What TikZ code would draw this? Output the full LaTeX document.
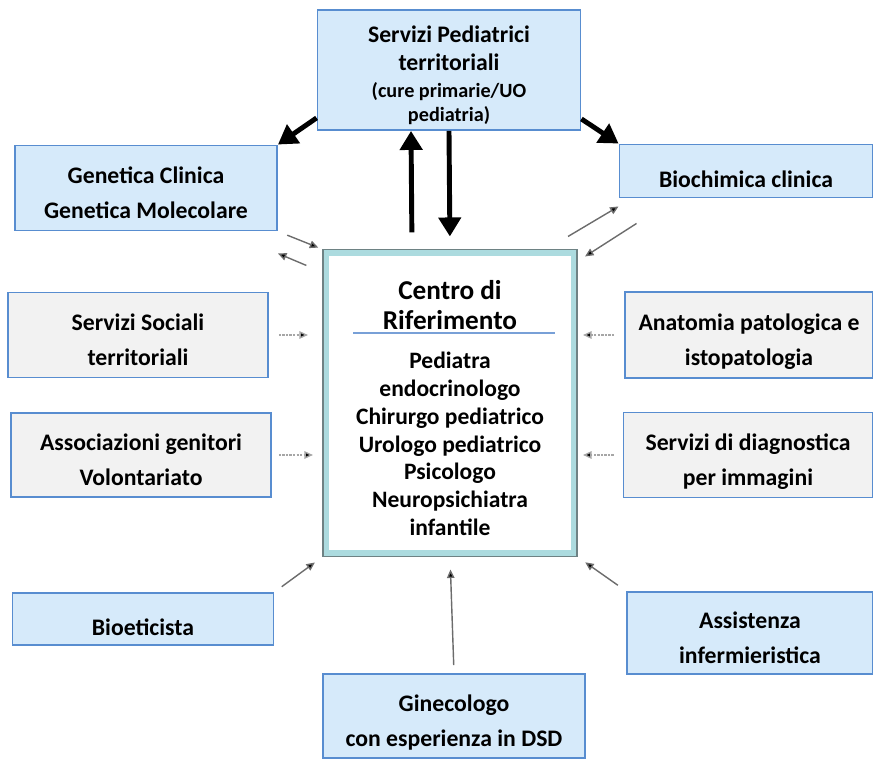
\documentclass[tikz,border=0pt]{standalone}
\usepackage{fontspec}
\setmainfont{Carlito}
\usepackage{xcolor}
\usepackage{tikz}
\usetikzlibrary{arrows.meta, calc}
\definecolor{boxblue}{RGB}{214, 234, 250}
\definecolor{boxedge}{RGB}{88, 141, 208}
\definecolor{boxgrey}{RGB}{242, 242, 242}
\definecolor{framecyan}{RGB}{172, 219, 223}
\definecolor{frameedge}{RGB}{110, 130, 132}
\definecolor{rulecol}{RGB}{120, 160, 215}

\begin{document}
\begin{tikzpicture}[
    x=0.02cm, y=-0.02cm,
    unit/.style={draw=boxedge, line width=1.1pt, align=center, inner sep=2pt,
                 font=\fontsize{13.5}{20}\selectfont\bfseries,
                 text height=35pt, text depth=0pt},
    bluebox/.style={unit, fill=boxblue},
    greybox/.style={unit, fill=boxgrey},
    centrebox/.style={draw=framecyan, line width=3.5pt, fill=white,
                      minimum width=4.96cm, minimum height=6.02cm},
    bigarrow/.style={line width=2.8pt, -{Triangle[length=0.38cm, width=0.44cm]}},
    smallarrow/.style={draw=gray!85!black, line width=0.8pt,
                       -{Triangle[length=0.17cm, width=0.15cm, fill=black]}},
    dotarrow/.style={smallarrow, draw=gray!70, dash pattern=on 1.2pt off 0.8pt}
]
    \useasboundingbox (0,0) rectangle (873,760);

    % boxes round the centre
    \node[bluebox, minimum width=5.26cm, minimum height=2.4cm, text height=59pt,
          font=\fontsize{13.5}{16}\selectfont\bfseries] (top) at (449,70)
        {Servizi Pediatrici\\ territoriali\\[-1pt]
         {\fontsize{11.5}{13}\selectfont (cure primarie/UO}\\[-2pt]
         {\fontsize{11.5}{13}\selectfont pediatria)}};
    \node[bluebox, minimum width=5.24cm, minimum height=1.7cm] (gen) at (146,188)
        {Genetica Clinica\\ Genetica Molecolare};
    \node[bluebox, minimum width=5.06cm, minimum height=1.06cm,
          text height=18.5pt] (bio) at (746,171)
        {Biochimica clinica};
    \node[greybox, minimum width=5.2cm, minimum height=1.7cm] (soc) at (138,335)
        {Servizi Sociali\\ territoriali};
    \node[greybox, minimum width=4.96cm, minimum height=1.72cm] (ana) at (749,335)
        {Anatomia patologica e\\ istopatologia};
    \node[greybox, minimum width=5.2cm, minimum height=1.68cm] (ass) at (141,455)
        {Associazioni genitori\\ Volontariato};
    \node[greybox, minimum width=4.98cm, minimum height=1.7cm] (dia) at (748,455)
        {Servizi di diagnostica\\ per immagini};
    \node[bluebox, minimum width=5.22cm, minimum height=1.04cm,
          text height=19pt] (bioe) at (143,619)
        {Bioeticista};
    \node[bluebox, minimum width=4.92cm, minimum height=1.64cm] (inf) at (750,633)
        {Assistenza\\ infermieristica};
    \node[bluebox, minimum width=5.24cm, minimum height=1.68cm] (gin) at (454,716)
        {Ginecologo\\ con esperienza in DSD};

    % centre
    \node[centrebox] (centre) at (450,403) {};
    \draw[frameedge, line width=0.8pt] (centre.north west) rectangle (centre.south east);
    \node[align=center, font=\fontsize{15.5}{17.5}\selectfont\bfseries] (title) at (450,305)
        {Centro di\\ Riferimento};
    \draw[rulecol, line width=0.9pt] (353,333) coordinate (rulea) -- (555,333) coordinate (ruleb);
    \node[align=center, font=\fontsize{13.4}{15.8}\selectfont\bfseries] (staff) at (450,444)
        {Pediatra\\ endocrinologo\\ Chirurgo pediatrico\\ Urologo pediatrico\\
         Psicologo\\ Neuropsichiatra\\ infantile};

    % arrows
    \draw[bigarrow] ([yshift=0.26cm]top.south west) -- (gen.north east);
    \draw[bigarrow] ([yshift=0.24cm]top.south east) -- (bio.north west);
    \draw[bigarrow, shorten <=0.34cm] ([xshift=-0.76cm]centre.north) -- ([xshift=-0.76cm]top.south);
    \draw[bigarrow, shorten >=0.26cm] (top.south) -- (centre.north);

    \draw[smallarrow, shorten <=0.2cm, shorten >=0.1cm] (gen.south east) -- (centre.north west);
    \draw[smallarrow, shorten <=0.36cm] ([yshift=-0.46cm]centre.north west) -- ([yshift=-0.44cm]gen.south east);
    \draw[smallarrow] ([shift={(-0.18cm,0.26cm)}]centre.north east) -- ([yshift=-0.16cm]bio.south west);
    \draw[smallarrow] ([shift={(0.36cm,-0.5cm)}]bio.south west) -- ([shift={(0.16cm,-0.14cm)}]centre.north east);

    \draw[dotarrow, shorten <=0.2cm, shorten >=0.3cm] (soc.east) -- (soc.east -| centre.west);
    \draw[dotarrow, shorten <=0.14cm, shorten >=0.2cm] (ass.east) -- (ass.east -| centre.west);
    \draw[dotarrow, shorten <=0.2cm, shorten >=0.12cm] (ana.west) -- (ana.west -| centre.east);
    \draw[dotarrow, shorten <=0.18cm, shorten >=0.12cm] (dia.west) -- (dia.west -| centre.east);

    \draw[smallarrow, shorten <=0.18cm, shorten >=0.2cm] (bioe.north east) -- (centre.south west);
    \draw[smallarrow, shorten <=0.2cm, shorten >=0.2cm] (inf.north west) -- (centre.south east);
    \draw[smallarrow, shorten <=0.16cm, shorten >=0.26cm] (gin.north) -- (centre.south);
\end{tikzpicture}
\end{document}
